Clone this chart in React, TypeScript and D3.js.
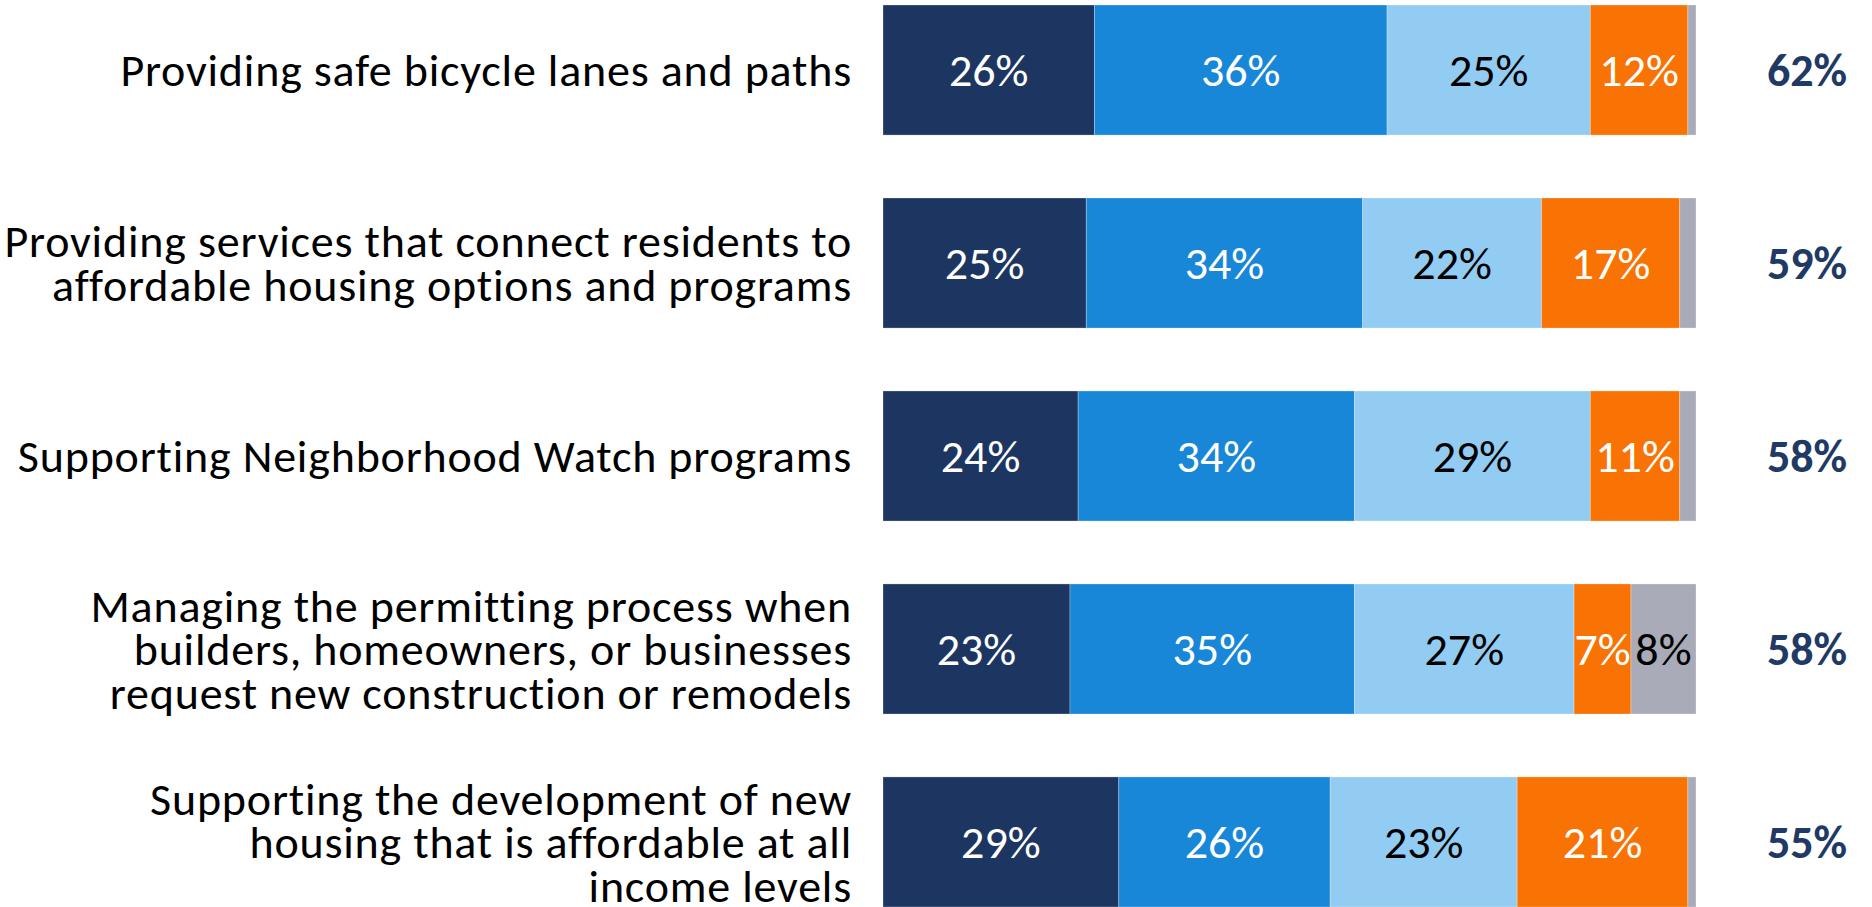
import React from "react";
import * as d3 from "d3";

const categories: string[][] = [
  ["Providing safe bicycle lanes and paths"],
  ["Providing services that connect residents to", "affordable housing options and programs"],
  ["Supporting Neighborhood Watch programs"],
  ["Managing the permitting process when", "builders, homeowners, or businesses", "request new construction or remodels"],
  ["Supporting the development of new", "housing that is affordable at all", "income levels"],
];

const seriesKeys = ["s1", "s2", "s3", "s4", "s5"];
const s1 = [26, 25, 24, 23, 29];
const s2 = [36, 34, 34, 35, 26];
const s3 = [25, 22, 29, 27, 23];
const s4 = [12, 17, 11, 7, 21];
const s5 = [1, 2, 2, 8, 1];
const totals = [62, 59, 58, 58, 55];

const colors = ["#1D3661", "#1887D7", "#92CCF3", "#F87304", "#A9ABB8"];
const textColors = ["#FFFFFF", "#FFFFFF", "#000000", "#FFFFFF", "#000000"];

const W = 1872;
const H = 907;
const FONT = "Carlito, Calibri, Lato, 'Open Sans', sans-serif";

export default function App() {
  const rows = categories.map((c, i) => ({
    id: String(i),
    s1: s1[i],
    s2: s2[i],
    s3: s3[i],
    s4: s4[i],
    s5: s5[i],
  }));
  const stacked = d3.stack<any>().keys(seriesKeys)(rows);

  const x = d3.scaleLinear().domain([0, 100]).range([883, 1696]);
  const y = d3
    .scaleBand<string>()
    .domain(rows.map((r) => r.id))
    .range([5, 907])
    .paddingInner(0.326)
    .paddingOuter(0);

  const lineH = 43.5;
  const fontSize = 46;

  return (
    <svg
      width={W}
      height={H}
      style={{ position: "absolute", left: 0, top: 0, display: "block", background: "#fff" }}
      fontFamily={FONT}
    >
      {stacked.map((layer, si) => (
        <g key={layer.key}>
          {layer.map((d, ri) => {
            const x0 = x(d[0]);
            const x1 = x(d[1]);
            const yy = y(String(ri))!;
            const bw = y.bandwidth();
            const v = d[1] - d[0];
            return (
              <g key={ri}>
                <rect
                  x={x0}
                  y={yy}
                  width={Math.max(0, x1 - x0)}
                  height={bw}
                  fill={colors[si]}
                  stroke="#ffffff"
                  strokeOpacity={0.35}
                  strokeWidth={0.8}
                />
                {v >= 5 && (
                  <text
                    x={(x0 + x1) / 2}
                    y={yy + bw / 2}
                    dy="0.35em"
                    textAnchor="middle"
                    fontSize={fontSize}
                    fill={textColors[si]}
                  >
                    {v}%
                  </text>
                )}
              </g>
            );
          })}
        </g>
      ))}
      {categories.map((lines, i) => {
        const cy = y(String(i))! + y.bandwidth() / 2;
        const startY = cy - ((lines.length - 1) * lineH) / 2;
        return (
          <text key={i} textAnchor="end" fontSize={fontSize} fill="#000" letterSpacing={0.8}>
            {lines.map((ln, li) => (
              <tspan key={li} x={852} y={startY + li * lineH} dy="0.35em">
                {ln}
              </tspan>
            ))}
          </text>
        );
      })}
      {totals.map((t, i) => (
        <text
          key={i}
          x={1807}
          y={y(String(i))! + y.bandwidth() / 2}
          dy="0.35em"
          textAnchor="middle"
          fontSize={fontSize}
          fontWeight="bold"
          fill="#1F3A64"
        >
          {t}%
        </text>
      ))}
    </svg>
  );
}
